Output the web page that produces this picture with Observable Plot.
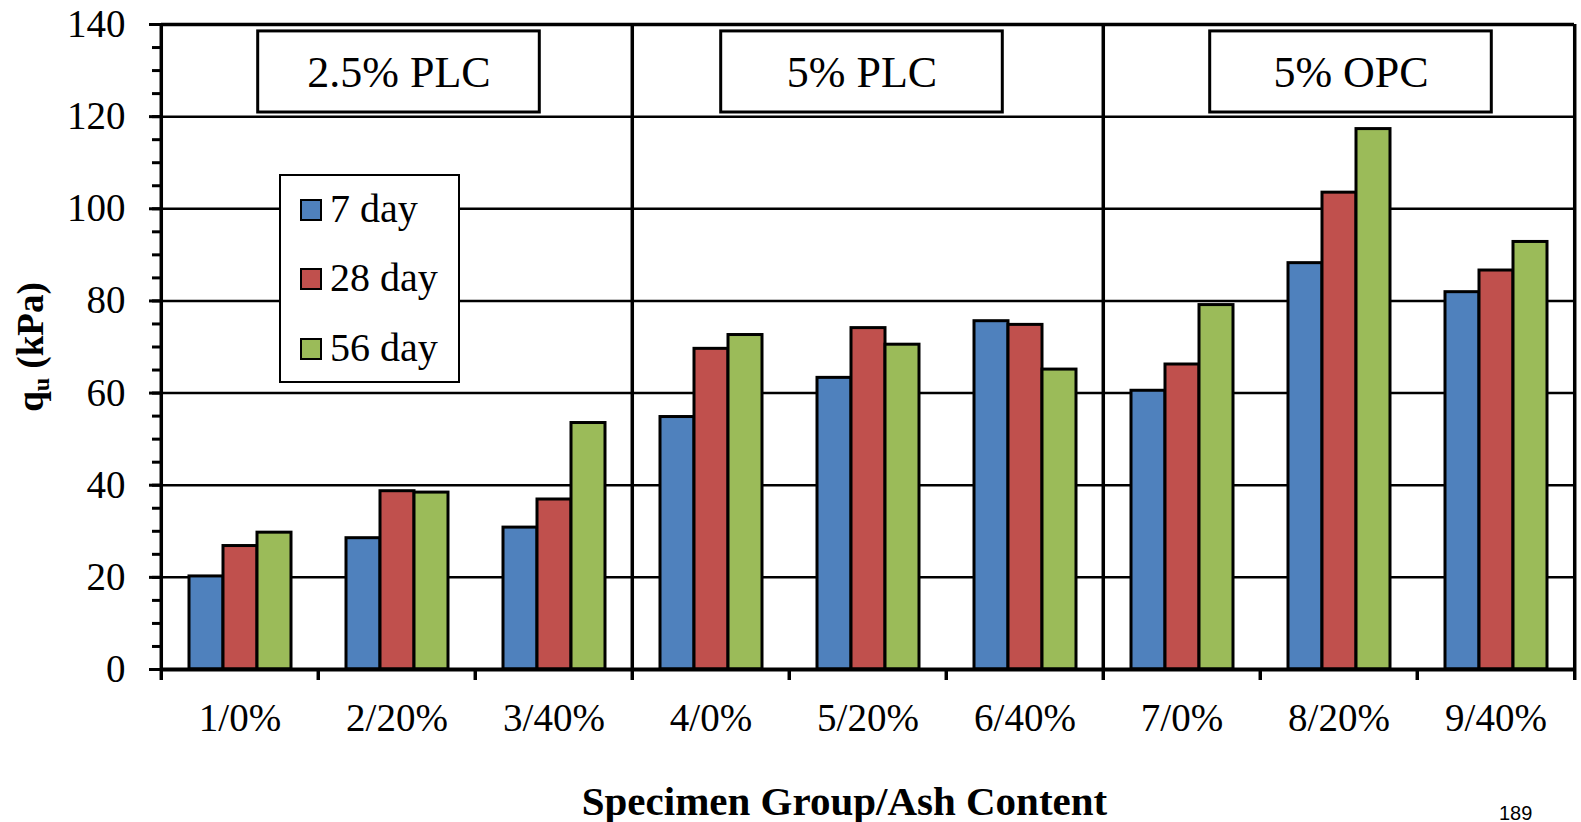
<!DOCTYPE html>
<html>
<head>
<meta charset="utf-8">
<script src="https://cdn.jsdelivr.net/npm/d3@7"></script>
<script src="https://cdn.jsdelivr.net/npm/@observablehq/plot@0.6"></script>
<style>
  html, body { margin: 0; padding: 0; background: #fff; overflow: hidden; }
  #wrap { position: relative; width: 1581px; height: 822px; font-family: "Liberation Serif", "Times New Roman", serif; color: #000; }
  #wrap svg { display: block; }
  .xtitle { padding-left: 108px; width: 1473px; text-align: center; font-weight: bold; font-size: 41px; line-height: 41px; padding-top: 36px; white-space: nowrap; }
  .ytitle { position: absolute; left: 30px; top: 347px; transform: translate(-50%, -50%) rotate(-90deg); font-weight: bold; font-size: 37px; line-height: 37px; white-space: nowrap; }
  .ytitle sub { font-size: 0.65em; vertical-align: -0.25em; line-height: 0; }
  .legend { position: absolute; left: 279px; top: 174px; width: 181px; height: 209px; border: 2px solid #000; background: #fff; box-sizing: border-box; }
  .legend .sw { position: absolute; left: 19px; width: 22px; height: 22px; border: 2px solid #000; box-sizing: border-box; }
  .legend .lb { position: absolute; left: 49px; font-size: 40px; line-height: 40px; white-space: nowrap; }
  .page { position: absolute; left: 1499px; top: 803px; font-family: "Liberation Sans", Arial, sans-serif; font-size: 20px; line-height: 20px; }
</style>
</head>
<body>
<div id="wrap"></div>
<script>
// ---- data ----
const categories = ["1/0%", "2/20%", "3/40%", "4/0%", "5/20%", "6/40%", "7/0%", "8/20%", "9/40%"];
const series = ["7 day", "28 day", "56 day"];
const day7  = [20.2, 28.5, 30.8, 54.8, 63.3, 75.6, 60.5, 88.2, 81.9];
const day28 = [26.8, 38.7, 36.9, 69.6, 74.1, 74.8, 66.2, 103.5, 86.6];
const day56 = [29.7, 38.4, 53.5, 72.6, 70.5, 65.1, 79.1, 117.3, 92.8];
const seriesColors = ["#4F81BD", "#C0504D", "#9BBB59"];
const sectionLabels = ["2.5% PLC", "5% PLC", "5% OPC"];
const sectionMiddles = ["2/20%", "5/20%", "8/20%"];
const sectionStarts = ["1/0%", "4/0%", "7/0%"];
const yMajorTicks = [0, 20, 40, 60, 80, 100, 120, 140];
const yMinorTicks = d3.range(0, 141, 5);
const yGrid = [20, 40, 60, 80, 100, 120];

// table built from the arrays
const values = [day7, day28, day56];
const rows = categories.flatMap((c, i) => series.map((s, j) => ({category: c, series: s, value: values[j][i]})));

// layout
const W = 1581, H = 745, ML = 159, MR = 5, MT = 24, MB = 76;
const step = (W - ML - MR) / categories.length;
const boxShift = [2, -6, 12];
const serif = "'Liberation Serif', 'Times New Roman', serif";

const sectionMarks = sectionLabels.flatMap((lab, k) => [
  Plot.barY([sectionMiddles[k]], {fx: d => d, y1: 120.9, y2: 138.5, fill: "white", stroke: "black", strokeWidth: 3,
    insetLeft: -62.3, insetRight: -62.3, dx: boxShift[k]}),
  Plot.text([lab], {fx: () => sectionMiddles[k], y: 129.5, text: d => d, fontSize: 44, fontFamily: serif, fill: "black", dx: boxShift[k]})
]);

const chart = Plot.plot({
  width: W, height: H,
  marginLeft: ML, marginRight: MR, marginTop: MT, marginBottom: MB,
  style: {fontFamily: serif, fontSize: "39px", background: "white", color: "black"},
  fx: {domain: categories, padding: 0},
  x: {domain: series, paddingInner: 0, paddingOuter: 0.75, axis: null},
  y: {domain: [0, 140]},
  color: {domain: series, range: seriesColors},
  marks: [
    Plot.ruleY(yGrid, {stroke: "black", strokeWidth: 2.5}),
    Plot.barY(rows, {fx: "category", x: "series", y: "value", fill: "series", stroke: "black", strokeWidth: 3}),
    Plot.ruleY([140], {stroke: "black", strokeWidth: 3.5}),
    Plot.ruleY([0], {stroke: "black", strokeWidth: 4}),
    Plot.gridFx({ticks: sectionStarts, dx: -step / 2, stroke: "black", strokeOpacity: 1, strokeWidth: 3.5}),
    Plot.gridFx({ticks: [categories[categories.length - 1]], dx: step / 2, stroke: "black", strokeOpacity: 1, strokeWidth: 3.5}),
    Plot.axisY({ticks: yMinorTicks, tickSize: 9, tickFormat: () => "", strokeWidth: 3, label: null}),
    Plot.axisY({ticks: yMajorTicks, tickSize: 12, tickPadding: 24, strokeWidth: 3, fontSize: 39, fontFamily: serif, label: null}),
    Plot.axisFx({anchor: "bottom", tickSize: 0, tickPadding: 34, fontSize: 39, fontFamily: serif, label: null}),
    Plot.axisFx({anchor: "bottom", tickSize: 11, tickFormat: () => "", dx: -step / 2, strokeWidth: 3.5, label: null}),
    Plot.axisFx({anchor: "bottom", ticks: [categories[categories.length - 1]], tickSize: 11, tickFormat: () => "", dx: step / 2, strokeWidth: 3.5, label: null}),
    ...sectionMarks
  ]
});

const wrap = document.getElementById("wrap");
wrap.appendChild(chart);

// x-axis title below the SVG
const xt = document.createElement("div");
xt.className = "xtitle";
xt.textContent = "Specimen Group/Ash Content";
wrap.appendChild(xt);

// y-axis title
const yt = document.createElement("div");
yt.className = "ytitle";
yt.innerHTML = "q<sub>u</sub> (kPa)";
wrap.appendChild(yt);

// legend
const lg = document.createElement("div");
lg.className = "legend";
const centers = [34, 103, 173];
series.forEach((s, j) => {
  const sw = document.createElement("div");
  sw.className = "sw";
  sw.style.top = (centers[j] - 11) + "px";
  sw.style.background = seriesColors[j];
  lg.appendChild(sw);
  const lb = document.createElement("div");
  lb.className = "lb";
  lb.style.top = (centers[j] - 21) + "px";
  lb.textContent = s;
  lg.appendChild(lb);
});
wrap.appendChild(lg);

// page number
const pg = document.createElement("div");
pg.className = "page";
pg.textContent = "189";
wrap.appendChild(pg);
</script>
</body>
</html>
